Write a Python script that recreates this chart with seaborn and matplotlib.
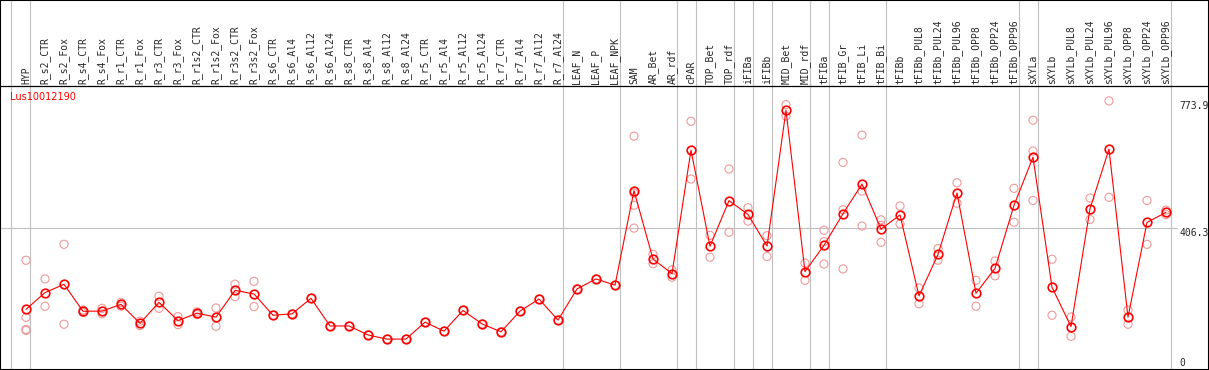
import matplotlib
matplotlib.use('Agg')
import matplotlib.pyplot as plt
import pandas as pd
import seaborn as sns

gene = 'Lus10012190'

samples = [
    'HYP', 'R_s2_CTR', 'R_s2_Fox', 'R_s4_CTR', 'R_s4_Fox', 'R_r1_CTR', 'R_r1_Fox',
    'R_r3_CTR', 'R_r3_Fox', 'R_r1s2_CTR', 'R_r1s2_Fox', 'R_r3s2_CTR', 'R_r3s2_Fox',
    'R_s6_CTR', 'R_s6_Al4', 'R_s6_Al12', 'R_s6_Al24', 'R_s8_CTR', 'R_s8_Al4',
    'R_s8_Al12', 'R_s8_Al24', 'R_r5_CTR', 'R_r5_Al4', 'R_r5_Al12', 'R_r5_Al24',
    'R_r7_CTR', 'R_r7_Al4', 'R_r7_Al12', 'R_r7_Al24', 'LEAF_N', 'LEAF_P', 'LEAF_NPK',
    'SAM', 'AR_Bet', 'AR_rdf', 'cPAR', 'TOP_Bet', 'TOP_rdf', 'iFIBa', 'iFIBb',
    'MID_Bet', 'MID_rdf', 'tFIBa', 'tFIB_Gr', 'tFIB_Li', 'tFIB_Bi', 'tFIBb',
    'tFIBb_PUL8', 'tFIBb_PUL24', 'tFIBb_PUL96', 'tFIBb_OPP8', 'tFIBb_OPP24',
    'tFIBb_OPP96', 'sXYLa', 'sXYLb', 'sXYLb_PUL8', 'sXYLb_PUL24', 'sXYLb_PUL96',
    'sXYLb_OPP8', 'sXYLb_OPP24', 'sXYLb_OPP96',
]

# number of samples in each tissue group (separated by grey lines)
group_sizes = [1, 28, 3, 3, 1, 2, 1, 1, 2, 1, 3, 7, 1, 7]

# replicate expression values per sample
replicates = [
    [313, 148, 113, 110],      # HYP
    [259, 180],                # R_s2_CTR
    [359, 128],                # R_s2_Fox
    [169, 162],                # R_s4_CTR
    [174, 158],                # R_s4_Fox
    [191, 180],                # R_r1_CTR
    [137, 124],                # R_r1_Fox
    [209, 174],                # R_r3_CTR
    [150, 127],                # R_r3_Fox
    [164, 156],                # R_r1s2_CTR
    [175, 122],                # R_r1s2_Fox
    [244, 208],                # R_r3s2_CTR
    [252, 179],                # R_r3s2_Fox
    [154],                     # R_s6_CTR
    [158],                     # R_s6_Al4
    [203],                     # R_s6_Al12
    [123],                     # R_s6_Al24
    [123],                     # R_s8_CTR
    [97],                      # R_s8_Al4
    [85],                      # R_s8_Al12
    [85],                      # R_s8_Al24
    [134],                     # R_r5_CTR
    [108],                     # R_r5_Al4
    [168],                     # R_r5_Al12
    [129],                     # R_r5_Al24
    [106],                     # R_r7_CTR
    [166],                     # R_r7_Al4
    [201],                     # R_r7_Al12
    [140],                     # R_r7_Al24
    [230],                     # LEAF_N
    [259],                     # LEAF_P
    [241],                     # LEAF_NPK
    [672, 507, 472, 406],      # SAM
    [330, 303],                # AR_Bet
    [285, 264],                # AR_rdf
    [715, 548],                # cPAR
    [385, 322],                # TOP_Bet
    [577, 394],                # TOP_rdf
    [465, 426],                # iFIBa
    [384, 324],                # iFIBb
    [763, 730],                # MID_Bet
    [305, 255],                # MID_rdf
    [400, 367, 302],           # tFIBa
    [596, 459, 288],           # tFIB_Gr
    [675, 513, 412],           # tFIB_Li
    [430, 414, 365],           # tFIB_Bi
    [470, 418],                # tFIBb
    [233, 187],                # tFIBb_PUL8
    [347, 313],                # tFIBb_PUL24
    [537, 478],                # tFIBb_PUL96
    [255, 180],                # tFIBb_OPP8
    [311, 268],                # tFIBb_OPP24
    [521, 423],                # tFIBb_OPP96
    [718, 629, 486],           # sXYLa
    [316, 154],                # sXYLb
    [149, 93],                 # sXYLb_PUL8
    [493, 431],                # sXYLb_PUL24
    [773.9, 495],              # sXYLb_PUL96
    [169, 128],                # sXYLb_OPP8
    [486, 359],                # sXYLb_OPP24
    [458, 445],                # sXYLb_OPP96
]

rows = []
for i, (name, vals) in enumerate(zip(samples, replicates)):
    for v in vals:
        rows.append({'pos': i, 'sample': name, 'value': v})
df = pd.DataFrame(rows)

# pixel layout of the original picture
W, H = 1209, 370
x0_px, step_px = 26, 19
top_px, bot_px = 87.5, 368.5

vmax = df['value'].max()
ymax = 1.05 * vmax
scale = ymax / (bot_px - top_px)


def px_y(p):
    return ymax - (p - top_px) * scale


def px_x(p):
    return (p - x0_px) / step_px


sns.set_style('white')
plt.rcParams['font.family'] = ['DejaVu Sans']

fig = plt.figure(figsize=(W / 100, H / 100), dpi=100)
ax = fig.add_axes([0, 0, 1, 1])
ax.set_xlim(px_x(0), px_x(W))
ax.set_ylim(px_y(H), px_y(0))

# grey separators between tissue groups
boundaries = [-1]
for n in group_sizes:
    boundaries.append(boundaries[-1] + n)
for b in boundaries:
    ax.axvline(b + 4.5 / step_px, color='#c0c0c0', lw=0.8, zorder=0)
ax.axhline(ymax / 2, xmin=0, xmax=1177 / W, color='#c0c0c0', lw=0.8, zorder=0)

# header separator
ax.axhline(px_y(86), color='black', lw=0.9, zorder=1)

sns.scatterplot(data=df, x='pos', y='value', ax=ax, marker='o', s=34,
                color='#ef9a9a', facecolor='none', edgecolor='#ef9a9a',
                linewidth=0.8, zorder=2, legend=False)
sns.lineplot(data=df, x='pos', y='value', ax=ax, estimator='mean', errorbar=None,
             color='red', lw=0.8, marker='o', markersize=6.2,
             markerfacecolor='none', markeredgecolor='red', markeredgewidth=1.2,
             zorder=3, legend=False)

for i, name in enumerate(samples):
    ax.text(i, px_y(84), name, rotation=90, ha='center', va='bottom',
            family='DejaVu Sans Mono', fontsize=7)

ax.text(px_x(10), px_y(97), gene, color='red', ha='left', va='center', fontsize=7)

ax.text(px_x(1179), vmax, f'{vmax:.1f}', ha='left', va='top',
        family='DejaVu Sans Mono', fontsize=7)
ax.text(px_x(1179), ymax / 2, f'{ymax / 2:.1f}', ha='left', va='top',
        family='DejaVu Sans Mono', fontsize=7)
ax.text(px_x(1179), 0, '0', ha='left', va='bottom',
        family='DejaVu Sans Mono', fontsize=7)

ax.set_xticks([])
ax.set_yticks([])
ax.set_xlabel('')
ax.set_ylabel('')
for sp in ax.spines.values():
    sp.set_visible(True)
    sp.set_color('black')
    sp.set_linewidth(1.5)

fig.savefig('out.png', dpi=100)
